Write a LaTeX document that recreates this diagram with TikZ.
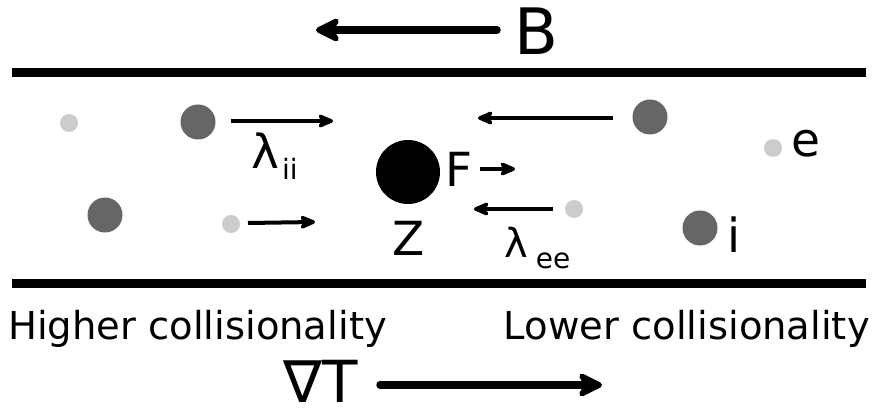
\documentclass[tikz,border=0pt]{standalone}
\usepackage{fontspec}
\setmainfont{DejaVu Sans}
\usetikzlibrary{arrows.meta}

\begin{document}
\begin{tikzpicture}[x=1pt, y=-1pt,
    ion/.style={circle, fill=black!60, minimum size=35pt, inner sep=0pt},
    elec/.style={circle, fill=black!20, minimum size=18pt, inner sep=0pt},
    imp/.style={circle, fill=black, minimum size=64pt, inner sep=0pt},
    wall/.style={line width=9pt},
    vecbig/.style={-{Stealth[length=30pt, width=30pt, inset=9pt, round]}, line width=7.5pt, line cap=round},
    vecsmall/.style={-{Stealth[length=20pt, width=17pt, inset=6pt, round]}, line width=4pt},
    lab/.style={inner sep=0pt, font=\fontsize{47pt}{47pt}\selectfont},
    side/.style={inner sep=0pt, font=\fontsize{38.5pt}{38.5pt}\selectfont}
  ]
  \useasboundingbox (0,0) rectangle (876,417);

  % field direction
  \coordinate (Bs) at (497,30);
  \coordinate (Be) at (316,30);
  \draw[vecbig] (Bs) -- (Be);
  \node[inner sep=0pt, font=\fontsize{64pt}{64pt}\selectfont] (B) at (536,31.5) {B};

  % walls
  \coordinate (wtl) at (12,73);
  \coordinate (wtr) at (866,73);
  \coordinate (wbl) at (12,283.5);
  \coordinate (wbr) at (866,283.5);
  \draw[wall] (wtl) -- (wtr);
  \draw[wall] (wbl) -- (wbr);

  % particles
  \node[elec] (e1) at (69,123) {};
  \node[ion]  (i1) at (198,122) {};
  \node[ion]  (i2) at (650,117) {};
  \node[elec] (e2) at (773,148) {};
  \node[ion]  (i3) at (105,215) {};
  \node[elec] (e3) at (231,224) {};
  \node[elec] (e4) at (574,209) {};
  \node[ion]  (i4) at (700,228) {};
  \node[imp]  (Z)  at (408,172) {};

  % free paths
  \coordinate (a1) at (231,121);
  \coordinate (a2) at (333,121);
  \coordinate (a3) at (613,118);
  \coordinate (a4) at (478,118);
  \coordinate (a5) at (248,223);
  \coordinate (a6) at (315,222);
  \coordinate (a7) at (553,209);
  \coordinate (a8) at (474,209);
  \coordinate (a9) at (480,169);
  \coordinate (a10) at (515,169);
  \draw[vecsmall] (a1) -- (a2);
  \draw[vecsmall] (a3) -- (a4);
  \draw[vecsmall] (a5) -- (a6);
  \draw[vecsmall] (a7) -- (a8);
  \draw[vecsmall] (a9) -- (a10);

  % labels
  \node[lab] (Fl) at (459,169.5) {F};
  \node[lab] (Zl) at (409,238.5) {Z};
  \node[lab, anchor=base] (el) at (805.5,157) {e};
  \node[lab, anchor=base] (il) at (734,252) {i};
  \node[lab, anchor=base west] (lii) at (251,168)
    {λ\kern3pt\raisebox{-11pt}{\fontsize{28pt}{28pt}\selectfont ii}};
  \node[inner sep=0pt, anchor=base west, font=\fontsize{40pt}{40pt}\selectfont] (lee) at (504,257)
    {λ\kern8pt\raisebox{-11pt}{\fontsize{28pt}{28pt}\selectfont ee}};

  \node[side, anchor=base west] (hi) at (8,339) {Higher collisionality};
  \node[side, anchor=base east] (lo) at (870,339) {Lower collisionality};

  % temperature gradient
  \node[inner sep=0pt, anchor=base, font=\fontsize{58pt}{58pt}\selectfont] (gT) at (321,402) {∇T};
  \coordinate (Ts) at (380,385);
  \coordinate (Te) at (602,385);
  \draw[vecbig] (Ts) -- (Te);
\end{tikzpicture}
\end{document}
